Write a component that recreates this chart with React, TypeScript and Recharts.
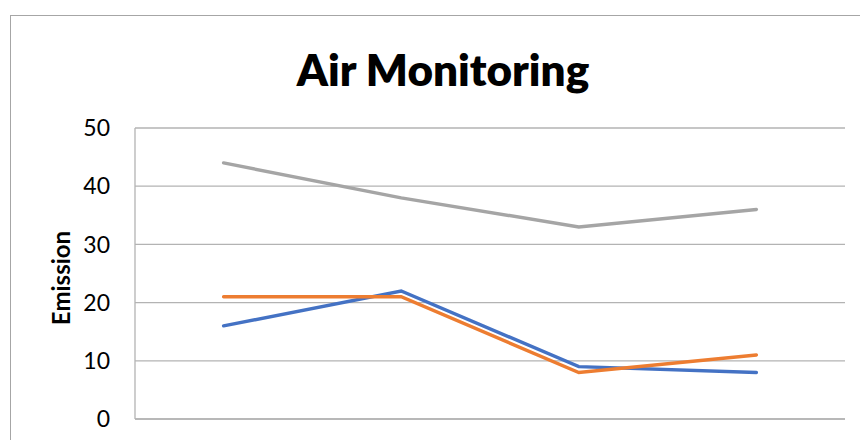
import React from "react";
import { LineChart, Line, XAxis, YAxis, CartesianGrid, Label } from "recharts";

const categories = ["1", "2", "3", "4"];
const seriesBlue = [16, 22, 9, 8];
const seriesOrange = [21, 21, 8, 11];
const seriesGrey = [44, 38, 33, 36];
const yTicks = [0, 10, 20, 30, 40, 50];

const data = categories.map((c, i) => ({
  cat: c,
  blue: seriesBlue[i],
  orange: seriesOrange[i],
  grey: seriesGrey[i],
}));

const FONT = "Lato, 'Open Sans', sans-serif";
const GRID = "#b3b3b3";

function YLabel() {
  // rotated axis title, svg coords
  return (
    <text
      x={49}
      y={262}
      transform="rotate(-90, 49, 262)"
      textAnchor="middle"
      dominantBaseline="central"
      fontFamily={FONT}
      fontWeight={700}
      fontSize={24}
      fill="#000"
    >
      Emission
    </text>
  );
}

export default function App() {
  return (
    <div
      style={{
        position: "absolute",
        left: 10,
        top: 15,
        width: 870,
        height: 470,
        border: "1px solid #a6a6a6",
        background: "#fff",
      }}
    >
      <div
        style={{
          position: "absolute",
          left: 0,
          top: 27,
          width: 864,
          textAlign: "center",
          fontFamily: FONT,
          fontWeight: 800,
          fontSize: 44,
          lineHeight: "52px",
          color: "#000",
        }}
      >
        Air Monitoring
      </div>
      <LineChart
        width={860}
        height={470}
        data={data}
        margin={{ top: 112, right: 26, bottom: 37, left: 0 }}
      >
        <CartesianGrid vertical={false} stroke={GRID} strokeWidth={1.3} />
        <XAxis
          dataKey="cat"
          tick={false}
          tickLine={false}
          axisLine={{ stroke: GRID, strokeWidth: 1.3 }}
          padding={{ left: 88.6, right: 88.6 }}
        />
        <YAxis
          width={124}
          domain={[0, 50]}
          ticks={yTicks}
          tickLine={false}
          tickSize={0}
          tickMargin={25}
          axisLine={{ stroke: GRID, strokeWidth: 1.3 }}
          tick={{ fontFamily: FONT, fontSize: 23, fill: "#000" }}
        >
          <Label content={<YLabel />} />
        </YAxis>
        <Line
          dataKey="blue"
          stroke="#4472c4"
          strokeWidth={3.4}
          strokeLinecap="round"
          dot={false}
          isAnimationActive={false}
        />
        <Line
          dataKey="orange"
          stroke="#ed7d31"
          strokeWidth={3.4}
          strokeLinecap="round"
          dot={false}
          isAnimationActive={false}
        />
        <Line
          dataKey="grey"
          stroke="#a5a5a5"
          strokeWidth={3.4}
          strokeLinecap="round"
          dot={false}
          isAnimationActive={false}
        />
      </LineChart>
    </div>
  );
}
